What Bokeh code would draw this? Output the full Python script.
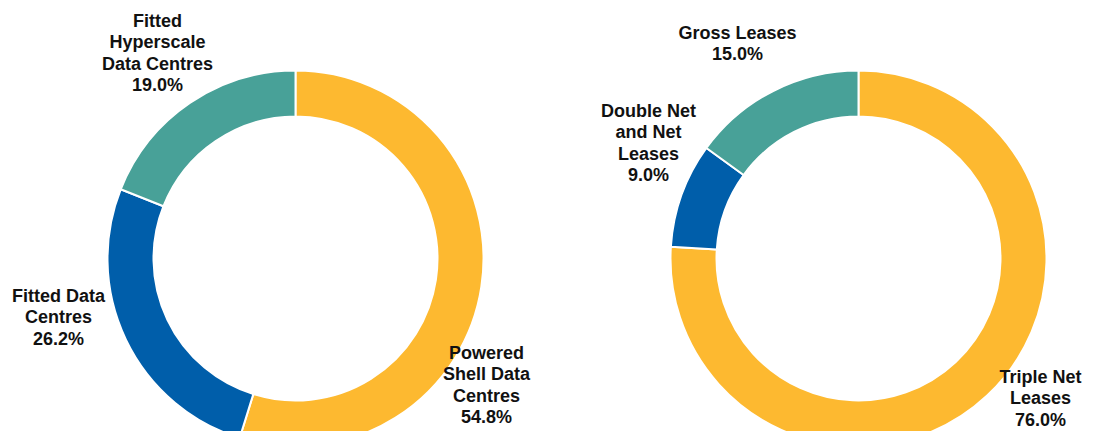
import math
from bokeh.plotting import figure
from bokeh.models import Range1d, ColumnDataSource
from bokeh.embed import file_html
from bokeh.resources import INLINE
from bokeh.core.properties import value

# ---- data ----
left_labels = ["Powered\nShell Data\nCentres", "Fitted Data\nCentres", "Fitted\nHyperscale\nData Centres"]
left_values = [54.8, 26.2, 19.0]
right_labels = ["Triple Net\nLeases", "Double Net\nand Net\nLeases", "Gross Leases"]
right_values = [76.0, 9.0, 15.0]
colors = ["#FDB930", "#005EAA", "#48A198"]

# ---- layout (picture pixel positions; data y = 447 - picture y) ----
W, H = 1084, 431
def sy(s):
    return 447 - s

centers = [(295, sy(258)), (858, sy(258))]
R_OUT, R_IN = 188, 142
# label block centre x and first-line picture y, per slice
left_label_pos = [(486, 352), (58, 295), (157, 20)]
right_label_pos = [(1040, 376), (648, 110), (737, 32)]
LINE_H = 21.5

p = figure(width=W, height=H, output_backend="svg", toolbar_location=None,
           x_range=Range1d(0, W), y_range=Range1d(sy(H), sy(0)),
           min_border=0, outline_line_color=None)
p.axis.visible = False
p.grid.visible = False
p.background_fill_color = "white"
p.border_fill_color = "white"

def donut(center, labels, values, label_pos):
    total = sum(values)
    starts, ends = [], []
    cum = 0.0
    for v in values:
        starts.append(math.pi / 2 - cum / total * 2 * math.pi)
        cum += v
        ends.append(math.pi / 2 - cum / total * 2 * math.pi)
    src = ColumnDataSource(dict(x=[center[0]] * len(values), y=[center[1]] * len(values),
                                start=starts, end=ends, color=colors[:len(values)]))
    p.annular_wedge(x="x", y="y", inner_radius=R_IN, outer_radius=R_OUT,
                    start_angle="start", end_angle="end", direction="clock",
                    fill_color="color", line_color="white", line_width=2, source=src)
    xs, ys, ts = [], [], []
    for lab, v, (lx, ly) in zip(labels, values, label_pos):
        lines = lab.split("\n") + [f"{v:.1f}%"]
        for i, t in enumerate(lines):
            xs.append(lx)
            ys.append(sy(ly + i * LINE_H))
            ts.append(t)
    p.text(x=xs, y=ys, text=ts, text_align="center", text_baseline="middle",
           text_font=value("Liberation Sans"), text_font_style="bold",
           text_font_size="18px", text_color="#111111")

donut(centers[0], left_labels, left_values, left_label_pos)
donut(centers[1], right_labels, right_values, right_label_pos)

open("out.html", "w").write(file_html(p, INLINE))
